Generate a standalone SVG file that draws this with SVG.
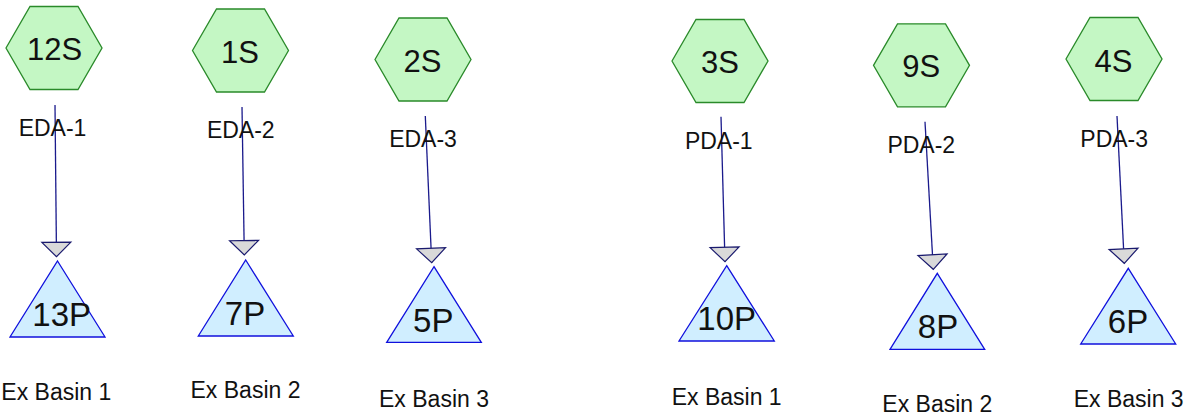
<svg xmlns="http://www.w3.org/2000/svg" width="1191" height="417" viewBox="0 0 1191 417">
<style>
.hex{fill:#c4f7c4;stroke:#2a8a2a;stroke-width:1.3}
.tri{fill:#d0eeff;stroke:#1010dd;stroke-width:1.3}
.big{font-family:"Liberation Sans",Arial,sans-serif;font-size:31px;fill:#111;text-anchor:middle}
.tt{font-size:33px}
.lbl{font-family:"Liberation Sans",Arial,sans-serif;font-size:23px;fill:#111;text-anchor:middle}
.edge{stroke:#1a1a8c;stroke-width:1.3;fill:none;marker-end:url(#ah)}
</style>
<defs>
<marker id="ah" markerUnits="userSpaceOnUse" markerWidth="16" markerHeight="31" refX="15" refY="15" orient="auto" overflow="visible" viewBox="0 0 16 31">
<path d="M0.5,0.5 L15,15 L0.5,29.5 Z" fill="#d9d9d9" stroke="#1a1a6e" stroke-width="1.2" stroke-linejoin="miter"/>
</marker>
</defs>
<g id="connectors">
<line class="edge" x1="55" y1="105" x2="56.5" y2="256.7"/>
<line class="edge" x1="242" y1="107" x2="244.3" y2="255"/>
<line class="edge" x1="425.3" y1="116" x2="431.7" y2="262.7"/>
<line class="edge" x1="721" y1="116.7" x2="725" y2="261.7"/>
<line class="edge" x1="925" y1="121.7" x2="933.3" y2="269.3"/>
<line class="edge" x1="1117" y1="116" x2="1124.3" y2="263.3"/>
</g>
<g id="n12S"><polygon class="hex" points="6,48 30,6.5 78,6.5 102,48 78,89.5 30,89.5"/><text class="big" x="54.5" y="60">12S</text></g>
<g id="n1S"><polygon class="hex" points="192.5,50.5 216.5,9 264.5,9 288.5,50.5 264.5,92 216.5,92"/><text class="big" x="240" y="62.7">1S</text></g>
<g id="n2S"><polygon class="hex" points="375,59.5 399,18 447,18 471,59.5 447,101 399,101"/><text class="big" x="422.5" y="71.7">2S</text></g>
<g id="n3S"><polygon class="hex" points="672,61 696,19.5 744,19.5 768,61 744,102.5 696,102.5"/><text class="big" x="720" y="72.7">3S</text></g>
<g id="n9S"><polygon class="hex" points="873.5,65.3 897.5,23.8 945.5,23.8 969.5,65.3 945.5,106.8 897.5,106.8"/><text class="big" x="921.3" y="77.3">9S</text></g>
<g id="n4S"><polygon class="hex" points="1066,59 1090,17.5 1138,17.5 1162,59 1138,100.5 1090,100.5"/><text class="big" x="1113.5" y="71.7">4S</text></g>
<g id="lEDA1"><text class="lbl" x="52.5" y="136">EDA-1</text></g>
<g id="lEDA2"><text class="lbl" x="240.8" y="137.7">EDA-2</text></g>
<g id="lEDA3"><text class="lbl" x="423" y="146.7">EDA-3</text></g>
<g id="lPDA1"><text class="lbl" x="718.8" y="149">PDA-1</text></g>
<g id="lPDA2"><text class="lbl" x="921.3" y="153.3">PDA-2</text></g>
<g id="lPDA3"><text class="lbl" x="1114.2" y="146.7">PDA-3</text></g>
<g id="n13P"><polygon class="tri" points="57.5,261 105,337 10,337"/><text class="big tt" x="61.7" y="326">13P</text></g>
<g id="n7P"><polygon class="tri" points="245.7,260 293.3,336 198.3,336"/><text class="big tt" x="245" y="325">7P</text></g>
<g id="n5P"><polygon class="tri" points="434,266.7 481.3,342.3 386.7,342.3"/><text class="big tt" x="433.3" y="331.7">5P</text></g>
<g id="n10P"><polygon class="tri" points="726.7,265.7 774.3,341 679,341"/><text class="big tt" x="726.7" y="330">10P</text></g>
<g id="n8P"><polygon class="tri" points="937.3,273.3 984.7,349.3 890,349.3"/><text class="big tt" x="938" y="338.3">8P</text></g>
<g id="n6P"><polygon class="tri" points="1128.3,268.3 1175.7,344 1080.7,344"/><text class="big tt" x="1128" y="333.3">6P</text></g>
<g id="b1"><text class="lbl" x="56.3" y="400">Ex Basin 1</text></g>
<g id="b2"><text class="lbl" x="245.5" y="398.3">Ex Basin 2</text></g>
<g id="b3"><text class="lbl" x="434" y="406.7">Ex Basin 3</text></g>
<g id="b4"><text class="lbl" x="726.7" y="405">Ex Basin 1</text></g>
<g id="b5"><text class="lbl" x="937.3" y="411.7">Ex Basin 2</text></g>
<g id="b6"><text class="lbl" x="1128.7" y="406.7">Ex Basin 3</text></g>
</svg>
